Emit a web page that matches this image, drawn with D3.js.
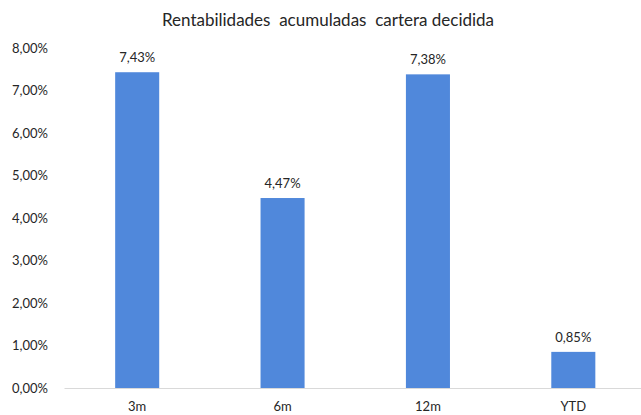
<!DOCTYPE html>
<html><head><meta charset="utf-8">
<script src="https://cdn.jsdelivr.net/npm/d3@7"></script>
<style>body{margin:0;background:#fff}svg{display:block}</style>
</head><body>
<svg id="c" width="641" height="415"></svg>
<script>
const categories = ["3m", "6m", "12m", "YTD"];
const values = [7.43, 4.47, 7.38, 0.85];
const yTicks = [0, 1, 2, 3, 4, 5, 6, 7, 8];
const title = "Rentabilidades  acumuladas  cartera decidida";

const svg = d3.select("#c");
const font = "Lato, 'Open Sans', sans-serif";
const fmt = v => v.toFixed(2).replace(".", ",") + "%";

const x = d3.scaleBand().domain(categories).range([64.5, 646]).paddingInner(0.697).paddingOuter(0.3485);
const y = d3.scaleLinear().domain([0, 8]).range([388, 48]);

svg.append("text").attr("x", 328).attr("y", 26).attr("text-anchor", "middle")
  .attr("font-family", font).attr("font-size", 17).attr("fill", "#262626")
  .attr("xml:space", "preserve").text(title);

const ya = svg.append("g").attr("transform", "translate(48,0)")
  .call(d3.axisLeft(y).tickValues(yTicks).tickSize(0).tickPadding(0).tickFormat(fmt));
ya.select(".domain").remove();
ya.selectAll("text").attr("font-family", font).attr("font-size", 13).attr("fill", "#262626");

svg.selectAll("rect.bar").data(values).join("rect").attr("class", "bar")
  .attr("x", (d, i) => x(categories[i])).attr("width", x.bandwidth())
  .attr("y", d => y(d)).attr("height", d => y(0) - y(d)).attr("fill", "#5088db");

const xa = svg.append("g").attr("transform", "translate(0,388)")
  .call(d3.axisBottom(x).tickSize(0).tickPadding(14));
xa.select(".domain").attr("stroke", "#d9d9d9").attr("d", "M64.5,0.5H641");
xa.selectAll("text").attr("font-family", font).attr("font-size", 13).attr("fill", "#262626");

svg.selectAll("text.val").data(values).join("text").attr("class", "val")
  .attr("x", (d, i) => x(categories[i]) + x.bandwidth() / 2).attr("y", d => y(d) - 10)
  .attr("text-anchor", "middle").attr("font-family", font).attr("font-size", 13).attr("fill", "#262626")
  .text(fmt);
</script>
</body></html>
